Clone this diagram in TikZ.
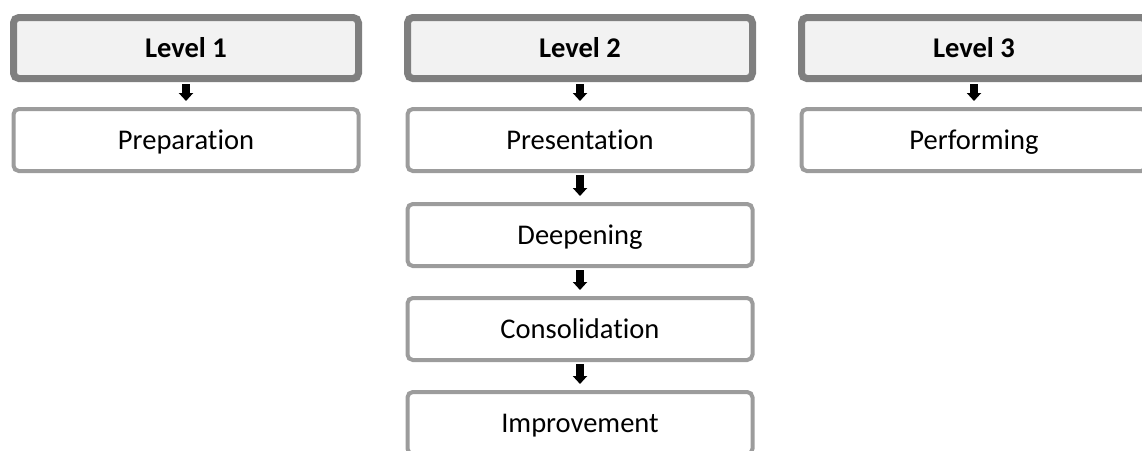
\documentclass[tikz,border=0pt]{standalone}
\usepackage{fontspec}
\setmainfont{Carlito}[Ligatures=NoCommon]
\usetikzlibrary{arrows.meta,shadows}
\definecolor{levelgray}{HTML}{7F7F7F}
\definecolor{levelfill}{HTML}{F2F2F2}
\definecolor{stepgray}{HTML}{9C9C9C}
\begin{document}
\begin{tikzpicture}[x=0.75pt,y=-0.75pt,
  font=\fontsize{21.4pt}{25pt}\selectfont,
  level/.style={rectangle,rounded corners=4pt,draw=levelgray,fill=levelfill,line width=5.25pt,
    minimum width=258.75pt,minimum height=45.75pt,inner sep=0pt,text height=13.7pt,text depth=0pt,
    font=\fontsize{21.4pt}{25pt}\selectfont\bfseries,
    drop shadow={shadow xshift=1.5pt,shadow yshift=-2.5pt,fill=black,opacity=0.18}},
  stepbox/.style={rectangle,rounded corners=4pt,draw=stepgray,fill=white,line width=3pt,
    minimum width=258.75pt,minimum height=46.5pt,inner sep=0pt,text height=13.7pt,text depth=0pt},
  conn/.style={-{Triangle[width=10.5pt,length=6pt]},line width=6pt,shorten <=1.8pt,shorten >=4.5pt}]
\path[use as bounding box,clip](0,0)rectangle(1142,450);
\node[level](l1) at (186,48){Level 1};
\node[level](l2) at (580,48){Level 2};
\node[level](l3) at (974,48){Level 3};
\node[stepbox](prep) at (186,140){Preparation};
\node[stepbox](pres) at (580,140){Presentation};
\node[stepbox](deep) at (580,235){Deepening};
\node[stepbox](cons) at (580,329){Consolidation};
\node[stepbox](impr) at (580,423){Improvement};
\node[stepbox](perf) at (974,140){Performing};
\draw[conn](l1)--(prep);
\draw[conn](l2)--(pres);
\draw[conn](l3)--(perf);
\draw[conn](pres)--(deep);
\draw[conn](deep)--(cons);
\draw[conn](cons)--(impr);
\end{tikzpicture}
\end{document}
